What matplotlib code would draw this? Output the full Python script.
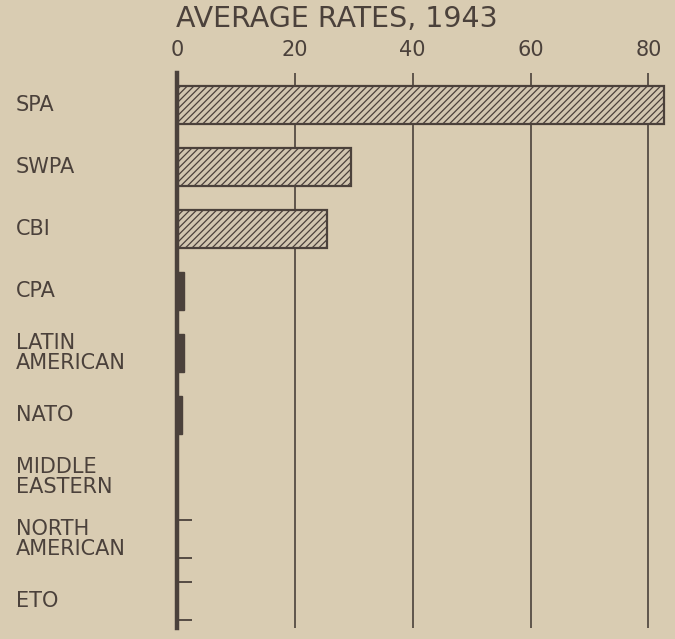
import numpy as np
import matplotlib
matplotlib.use("Agg")
import matplotlib.pyplot as plt

# data
regions = ["SPA", "SWPA", "CBI", "CPA", "LATIN\nAMERICAN", "NATO",
           "MIDDLE\nEASTERN", "NORTH\nAMERICAN", "ETO"]
rates = [82.7, 29.5, 25.4, 1.2, 1.2, 0.8, 0.0, 0.0, 0.0]
trace_only = ["NORTH\nAMERICAN", "ETO"]   # shown only as edge ticks
x_ticks = [0, 20, 40, 60, 80]

bg = "#d9ccb2"
ink = "#4b413b"
bar_fill = "#d2c6b0"

plt.rcParams["font.family"] = ["DejaVu Sans"]
plt.rcParams["hatch.linewidth"] = 0.9
plt.rcParams["hatch.color"] = ink

fig = plt.figure(figsize=(6.75, 6.39), dpi=100, facecolor=bg)
ax = fig.add_axes([177 / 675, 1 - 628 / 639, 498 / 675, 555 / 639])
ax.set_facecolor(bg)

y = np.arange(len(regions))
h = 0.61

ax.barh(y[:3], rates[:3], height=h, color=bar_fill, edgecolor=ink,
        linewidth=1.6, hatch="/////", zorder=3)
ax.barh(y[3:6], rates[3:6], height=h, color=ink, edgecolor=ink,
        linewidth=1.0, zorder=3)

# little edge ticks for the near-zero regions
for name in trace_only:
    i = regions.index(name)
    ax.hlines([i - h / 2, i + h / 2], 0, 2.6, color=ink, lw=1.3, zorder=3)

ax.set_xlim(0, 84.5)
ax.set_ylim(len(regions) - 1 + 0.435, -0.516)

ax.set_xticks(x_ticks)
ax.xaxis.tick_top()
ax.tick_params(axis="x", length=0, pad=9, labelsize=15, labelcolor=ink)
ax.set_yticks([])
for xv in x_ticks[1:]:
    ax.axvline(xv, color=ink, lw=1.2, zorder=1)

for s in ["top", "right", "bottom"]:
    ax.spines[s].set_visible(False)
ax.spines["left"].set_color(ink)
ax.spines["left"].set_linewidth(3.2)
ax.spines["left"].set_zorder(4)

for i, name in enumerate(regions):
    ax.text(16 / 675, 1 - (105 + 62 * i) / 639, name, transform=fig.transFigure,
            ha="left", va="center", fontsize=15, color=ink, linespacing=1.05)

fig.text(176 / 675, 1 - 19 / 639, "AVERAGE RATES, 1943", ha="left", va="center",
         fontsize=20.5, color=ink)

fig.savefig("out.png", dpi=100, facecolor=bg)
